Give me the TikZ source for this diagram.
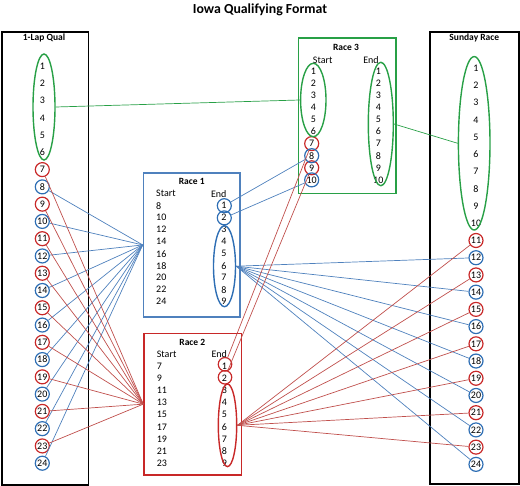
\documentclass[tikz,border=0pt]{standalone}
\usepackage{fontspec}
\setmainfont{Carlito}
\usetikzlibrary{shapes.geometric}
\definecolor{gr}{RGB}{40,160,70}
\definecolor{rd}{RGB}{200,40,40}
\definecolor{bl}{RGB}{46,110,180}
\definecolor{blbox}{RGB}{79,129,189}
\definecolor{rdline}{RGB}{192,80,77}
\definecolor{blline}{RGB}{79,129,189}
\begin{document}
\begin{tikzpicture}[x=1pt,y=-1pt,
  num/.style={font=\fontsize{10}{11}\selectfont, inner sep=0pt},
  hdr/.style={font=\fontsize{9.5}{11}\selectfont\bfseries, inner sep=0pt},
  circ/.style={circle, line width=1.2pt, minimum size=14pt, inner sep=0pt, font=\fontsize{10}{11}\selectfont},
  rcirc/.style={circ, draw=rd},
  bcirc/.style={circ, draw=bl},
  oval/.style={ellipse, line width=1.4pt, inner sep=0pt},
  bigbox/.style={draw, line width=1.6pt, anchor=north west, inner sep=0pt},
  bline/.style={draw=blline, line width=0.7pt},
  rline/.style={draw=rdline, line width=0.7pt},
  gline/.style={draw=gr, line width=0.7pt}]
\useasboundingbox (0,0) rectangle (520,486);
% title
\node[font=\fontsize{13.8}{16}\selectfont\bfseries, inner sep=0pt] (title) at (260,9.5) {Iowa Qualifying Format};
% ---------- 1-Lap Qual ----------
\node[bigbox, draw=black, minimum width=86.5pt, minimum height=453pt] (qual) at (1,31) {};
\node[hdr] (qualh) at (44,38) {1-Lap Qual};
\foreach \n in {1,...,6} {
  \pgfmathsetmacro\yy{66+(\n-1)*17.27}
  \node[num] (q\n) at (42.3,\yy) {\n};
}
\node[oval, draw=gr, minimum width=22pt, minimum height=106pt] (qell) at (44,107) {};
\foreach \n in {7,9,...,23} {
  \pgfmathsetmacro\yy{66+(\n-1)*17.27}
  \node[rcirc] (q\n) at (42.3,\yy) {\n};
}
\foreach \n in {8,10,...,24} {
  \pgfmathsetmacro\yy{66+(\n-1)*17.27}
  \node[bcirc] (q\n) at (42.3,\yy) {\n};
}
% ---------- Sunday Race ----------
\node[bigbox, draw=black, minimum width=89pt, minimum height=452.3pt] (sun) at (429.3,31) {};
\node[hdr] (sunh) at (474.3,38) {Sunday Race};
\foreach \n in {1,...,10} {
  \pgfmathsetmacro\yy{68.3+(\n-1)*17.22}
  \node[num] (s\n) at (476,\yy) {\n};
}
\node[oval, draw=gr, minimum width=31.6pt, minimum height=173.4pt] (sell) at (474.2,143.3) {};
\foreach \n in {11,13,...,23} {
  \pgfmathsetmacro\yy{68.3+(\n-1)*17.22}
  \node[rcirc] (s\n) at (476,\yy) {\n};
}
\foreach \n in {12,14,...,24} {
  \pgfmathsetmacro\yy{68.3+(\n-1)*17.22}
  \node[bcirc] (s\n) at (476,\yy) {\n};
}
% ---------- Race 1 ----------
\node[bigbox, draw=blbox, minimum width=96.6pt, minimum height=143.7pt] (r1) at (142.7,172.3) {};
\node[hdr] (r1h) at (191.7,181.7) {Race 1};
\node[num, anchor=west] (r1st) at (156,193.7) {Start};
\node[num] (r1en) at (218.7,193.7) {End};
\foreach \s [count=\k from 0] in {8,10,...,24} {
  \pgfmathsetmacro\yy{205.7+\k*12}
  \node[num, anchor=west] (r1s\s) at (156,\yy) {\s};
}
\foreach \n in {1,...,9} {
  \pgfmathsetmacro\yy{205.7+(\n-1)*12}
  \node[num] (r1n\n) at (223.8,\yy) {\n};
}
\node[circle, draw=bl, line width=1.2pt, minimum size=14pt, inner sep=0pt] (r1c1) at (224.3,205.7) {};
\node[circle, draw=bl, line width=1.2pt, minimum size=14pt, inner sep=0pt] (r1c2) at (224.3,217.9) {};
\node[oval, draw=bl, minimum width=22pt, minimum height=81pt] (r1ell) at (224.5,266.2) {};
% ---------- Race 2 ----------
\node[bigbox, draw=rd, minimum width=97.4pt, minimum height=141.3pt] (r2) at (143.3,332.7) {};
\node[hdr] (r2h) at (192.3,342.7) {Race 2};
\node[num, anchor=west] (r2st) at (156.7,354.3) {Start};
\node[num] (r2en) at (219.3,354.3) {End};
\foreach \s [count=\k from 0] in {7,9,...,23} {
  \pgfmathsetmacro\yy{366.3+\k*12.1}
  \node[num, anchor=west] (r2s\s) at (156.7,\yy) {\s};
}
\foreach \n in {1,...,9} {
  \pgfmathsetmacro\yy{366.3+(\n-1)*12.1}
  \node[num] (r2n\n) at (224.3,\yy) {\n};
}
\node[circle, draw=rd, line width=1.2pt, minimum size=13.5pt, inner sep=0pt] (r2c1) at (225,364.3) {};
\node[circle, draw=rd, line width=1.2pt, minimum size=13.5pt, inner sep=0pt] (r2c2) at (225,377.3) {};
\node[oval, draw=rd, minimum width=18.4pt, minimum height=82.6pt] (r2ell) at (227.5,425.3) {};
% ---------- Race 3 ----------
\node[bigbox, draw=gr, minimum width=97.3pt, minimum height=155.4pt] (r3) at (297.7,37.3) {};
\node[hdr] (r3h) at (346,47.7) {Race 3};
\node[num] (r3st) at (322.7,60) {Start};
\node[num] (r3en) at (371,60) {End};
\foreach \n in {1,...,6} {
  \pgfmathsetmacro\yy{71+(\n-1)*12.1}
  \node[num] (r3s\n) at (313.3,\yy) {\n};
}
\foreach \n in {7,9} {
  \pgfmathsetmacro\yy{71+(\n-1)*12.1}
  \node[rcirc] (r3s\n) at (311.7,\yy) {\n};
}
\foreach \n in {8,10} {
  \pgfmathsetmacro\yy{71+(\n-1)*12.1}
  \node[bcirc] (r3s\n) at (311.7,\yy) {\n};
}
\foreach \n in {1,...,10} {
  \pgfmathsetmacro\yy{71+(\n-1)*12.1}
  \node[num] (r3e\n) at (378.3,\yy) {\n};
}
\node[oval, draw=gr, minimum width=25.4pt, minimum height=73.4pt] (r3sell) at (313.3,100) {};
\node[oval, draw=gr, minimum width=25pt, minimum height=123.4pt] (r3eell) at (380.8,124) {};
% ---------- connectors ----------
\draw[gline] (qell.east) -- (r3sell.west);
\draw[gline] (r3eell.east) -- (sell.west);
\foreach \n in {8,10,...,24} \draw[bline] (q\n) -- (r1.west);
\foreach \n in {7,9,...,23} \draw[rline] (q\n) -- (r2.west);
\foreach \n in {12,14,...,24} \draw[bline] (r1ell.east) -- (s\n);
\foreach \n in {11,13,...,23} \draw[rline] (r2ell.east) -- (s\n);
\draw[bline] (r1c1) -- (r3s8);
\draw[bline] (r1c2) -- (r3s10);
\draw[rline] (r2c1) -- (r3s7);
\draw[rline] (r2c2) -- (r3s9);
\end{tikzpicture}
\end{document}
